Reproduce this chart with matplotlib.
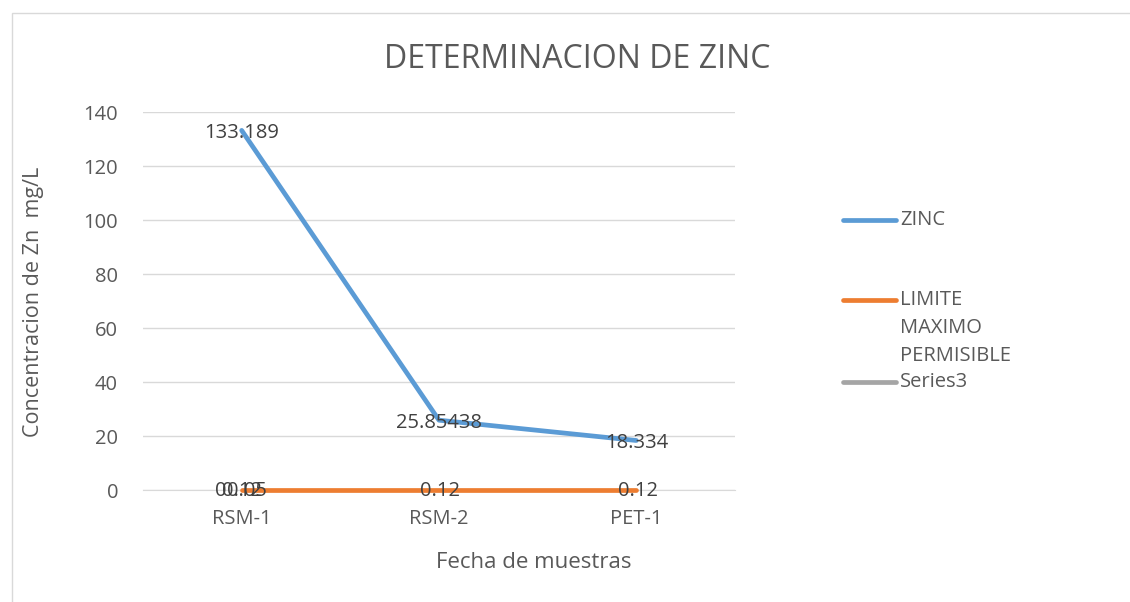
import matplotlib
matplotlib.use("Agg")
import matplotlib.pyplot as plt
from matplotlib.lines import Line2D
from matplotlib.patches import Rectangle
import numpy as np

categories = ["RSM-1", "RSM-2", "PET-1"]
zinc = [133.189, 25.85438, 18.334]
zinc_labels = ["133.189", "25.85438", "18.334"]
limite = [0.12, 0.12, 0.12]
limite_labels = ["0.12", "0.12", "0.12"]
series3 = [0.05, np.nan, np.nan]
series3_labels = ["0.05", "", ""]
extra_zero_label = "0"
yticks = [0, 20, 40, 60, 80, 100, 120, 140]
legend_names = ["ZINC", "LIMITE\nMAXIMO\nPERMISIBLE", "Series3"]

BLUE = "#5B9BD5"
ORANGE = "#ED7D31"
GRAY = "#A5A5A5"
TXT = "#595959"
LAB = "#404040"
GRID = "#D9D9D9"
FONT = "Open Sans"

W, H = 1130, 602
fig = plt.figure(figsize=(W / 100, H / 100), dpi=100)
fig.patch.set_facecolor("white")

# outer border
fig.add_artist(Rectangle((12 / W, -0.1), 1.2, 1 - 13 / H + 0.1, transform=fig.transFigure,
                         fill=False, edgecolor=GRID, linewidth=1))

x0, x1 = 143, 735
y0, y1 = 490, 112
ax = fig.add_axes([x0 / W, 1 - y0 / H, (x1 - x0) / W, (y0 - y1) / H])
ax.set_xlim(-0.5, 2.5)
ax.set_ylim(0, 140)
xs = np.arange(len(categories))

ax.set_yticks(yticks)
ax.set_yticklabels([str(v) for v in yticks], fontsize=14.5, color=TXT, family=FONT)
ax.set_xticks(xs)
ax.set_xticklabels(categories, fontsize=14.5, color=TXT, family=FONT)
ax.tick_params(axis="y", length=0, pad=18)
ax.tick_params(axis="x", length=0, pad=14)
for s in ["top", "right", "left"]:
    ax.spines[s].set_visible(False)
ax.spines["bottom"].set_color(GRID)
ax.grid(axis="y", color=GRID, linewidth=1)
ax.set_axisbelow(True)

lw = 3.4
ax.plot(xs, series3, color=GRAY, linewidth=lw, solid_capstyle="round", clip_on=False, zorder=3)
ax.plot(xs, limite, color=ORANGE, linewidth=lw, solid_capstyle="round", clip_on=False, zorder=3)
ax.plot(xs, zinc, color=BLUE, linewidth=lw, solid_capstyle="round", clip_on=False, zorder=3)

lab_kw = dict(fontsize=14.5, color=LAB, family=FONT, ha="center", va="center",
              textcoords="offset points", zorder=4)
for x, y, t in zip(xs, zinc, zinc_labels):
    ax.annotate(t, (x, y), xytext=(0, -2), **lab_kw)
for x, y, t in zip(xs, limite, limite_labels):
    ax.annotate(t, (x, y), xytext=(1 if x > 0 else 0, -1), **lab_kw)
for x, y, t in zip(xs, series3, series3_labels):
    if t:
        ax.annotate(t, (x, y), xytext=(4, -1), **lab_kw)
ax.annotate(extra_zero_label, (xs[0], 0), xytext=(-15, -1), **lab_kw)

fig.text(577 / W, 1 - 59 / H, "DETERMINACION DE ZINC", fontsize=23, color=TXT,
         family=FONT, ha="center", va="center")
fig.text(34 / W, 1 - 302 / H, "Concentracion de Zn  mg/L", fontsize=15.5, color=TXT,
         family=FONT, ha="center", va="center", rotation=90)
fig.text(534 / W, 1 - 562 / H, "Fecha de muestras", fontsize=16, color=TXT,
         family=FONT, ha="center", va="center")

# legend
leg_lines = [(220, BLUE), (300, ORANGE), (382, GRAY)]
for ly, col in leg_lines:
    fig.add_artist(Line2D([843 / W, 896 / W], [1 - ly / H, 1 - ly / H], color=col,
                          linewidth=lw, solid_capstyle="round", transform=fig.transFigure))
leg_text_rows = [(220, legend_names[0]), (300, legend_names[1]), (382, legend_names[2])]
for ty, name in leg_text_rows:
    for i, part in enumerate(name.split("\n")):
        fig.text(900 / W, 1 - (ty + 28 * i) / H, part, fontsize=14.5, color=TXT, family=FONT,
                 ha="left", va="center")

fig.savefig("out.png", dpi=100)
